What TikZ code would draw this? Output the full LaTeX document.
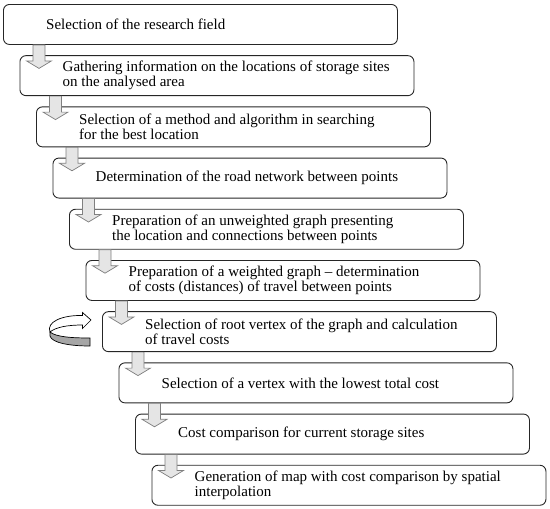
\documentclass[tikz,border=0pt]{standalone}
\usepackage{fontspec}
\setmainfont{Liberation Serif}
\usetikzlibrary{positioning, calc}

\begin{document}
\begin{tikzpicture}[
  x=1pt, y=1pt,
  font=\fontsize{15}{15}\selectfont,
  stage/.style={draw=black!85, line width=0.9pt, rounded corners=6pt, anchor=north west,
    minimum width=394pt, minimum height=40pt, inner sep=0pt},
  txt/.style={align=left, inner sep=0pt},
  downarr/.style={draw=black!50, fill=black!10, line width=0.7pt}]
\useasboundingbox (0,0) rectangle (550,-509);
% stage boxes with their texts
\foreach \i/\stagetext in {
  1/{Selection of the research field},
  2/{Gathering information on the locations of storage sites\\on the analysed area},
  3/{Selection of a method and algorithm in searching\\for the best location},
  4/{Determination of the road network between points},
  5/{Preparation of an unweighted graph presenting\\the location and connections between points},
  6/{Preparation of a weighted graph – determination\\of costs (distances) of travel between points},
  7/{Selection of root vertex of the graph and calculation\\of travel costs},
  8/{Selection of a vertex with the lowest total cost},
  9/{Cost comparison for current storage sites},
  10/{Generation of map with cost comparison by spatial\\interpolation}}{
  \node[stage] (b\i) at ({3+16.5*(\i-1)},{-4-51.2*(\i-1)}) {};
  \node[txt, right=43pt of b\i.west] (t\i) {\stagetext};
}
% block arrows between stages
\foreach \i in {1,...,9}{
  \draw[downarr] ($(b\i.south west)+(30,0)$) -- ++(0,-16) -- ++(-6.5,0) -- ++(12.5,-7.5)
    -- ++(12.5,7.5) -- ++(-6.5,0) -- ++(0,16) -- cycle;
}
% loop-back arrow beside the root vertex stage
\draw[fill=black!35, line width=0.7pt] (50,-332) .. controls (56,-337) and (72,-338) .. (90,-338)
  -- (90,-346) .. controls (70,-346) and (52,-343) .. (50,-336) -- cycle;
\draw[fill=white, line width=0.7pt] (82.5,-325) -- (82.5,-328.5) -- (91,-320) -- (82.5,-312.5)
  -- (82.5,-315.5) .. controls (62,-315) and (46,-322) .. (50,-332)
  .. controls (56,-327) and (68,-325) .. (82.5,-325) -- cycle;
\end{tikzpicture}
\end{document}
